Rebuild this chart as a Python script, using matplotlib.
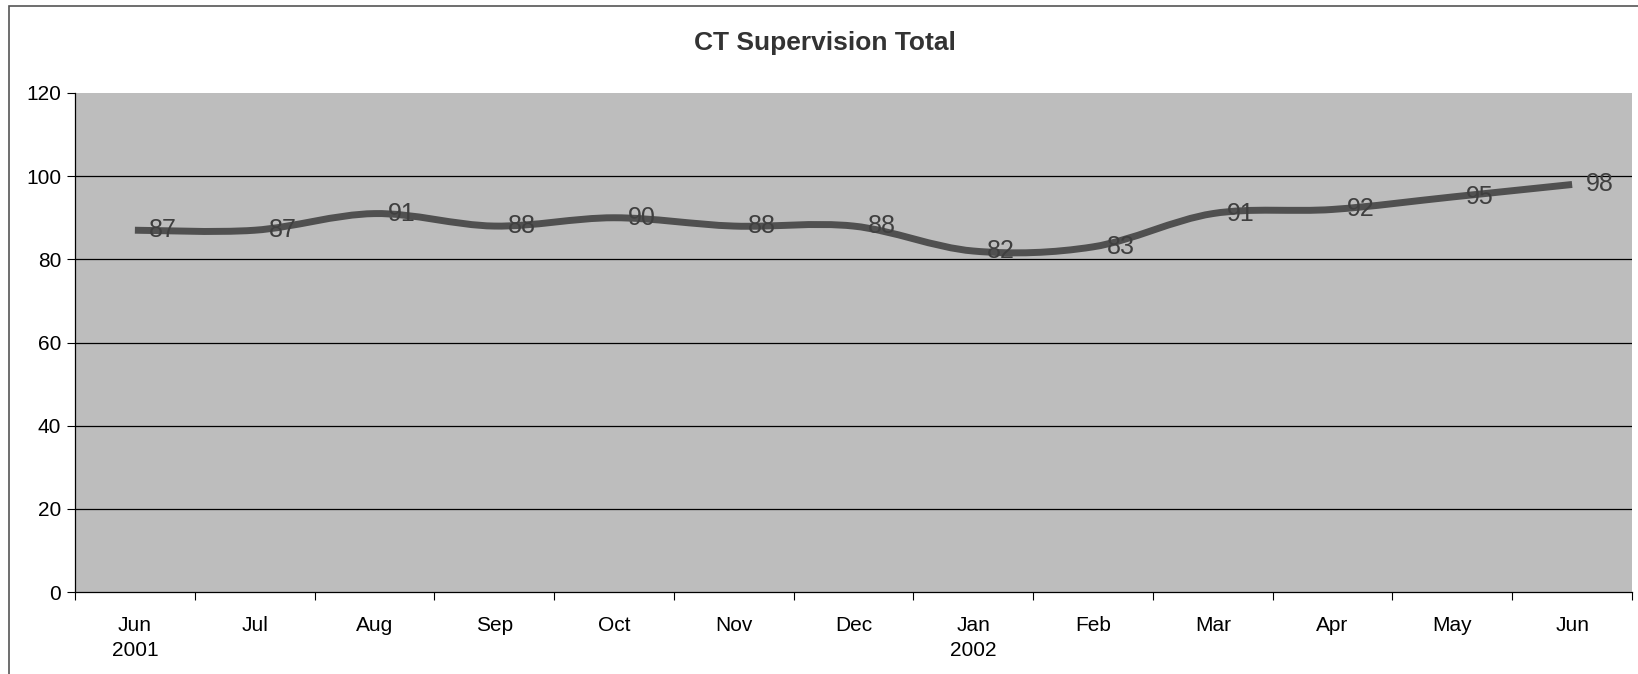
import numpy as np
import matplotlib.pyplot as plt
from matplotlib.path import Path
from matplotlib.patches import PathPatch, Rectangle

months = ['Jun', 'Jul', 'Aug', 'Sep', 'Oct', 'Nov', 'Dec',
          'Jan', 'Feb', 'Mar', 'Apr', 'May', 'Jun']
years = ['2001', '', '', '', '', '', '', '2002', '', '', '', '', '']
totals = [87, 87, 91, 88, 90, 88, 88, 82, 83, 91, 92, 95, 98]
yticks = [0, 20, 40, 60, 80, 100, 120]

plt.rcParams['font.family'] = ['Liberation Sans', 'DejaVu Sans']

fig = plt.figure(figsize=(16.38, 6.74), dpi=100)
ax = fig.add_axes([75 / 1638, 1 - 592 / 674, (1632 - 75) / 1638, (592 - 93) / 674])
ax.set_facecolor('#bdbdbd')

x = np.arange(len(totals))
y = np.array(totals, dtype=float)

# smoothed line like excel: catmull-rom -> bezier control points
verts = [(x[0], y[0])]
codes = [Path.MOVETO]
n = len(x)
for i in range(n - 1):
    p0 = np.array([x[max(i - 1, 0)], y[max(i - 1, 0)]])
    p1 = np.array([x[i], y[i]])
    p2 = np.array([x[i + 1], y[i + 1]])
    p3 = np.array([x[min(i + 2, n - 1)], y[min(i + 2, n - 1)]])
    c1 = p1 + (p2 - p0) / 6
    c2 = p2 - (p3 - p1) / 6
    verts += [tuple(c1), tuple(c2), tuple(p2)]
    codes += [Path.CURVE4] * 3
ax.add_patch(PathPatch(Path(verts, codes), facecolor='none',
                       edgecolor='#505050', lw=5, capstyle='butt', zorder=3))

for xi, yi in zip(x, y):
    ax.annotate(f'{int(yi)}', (xi, yi), xytext=(10, 0), textcoords='offset points',
                ha='left', va='center', fontsize=18, color='#3f3f3f', zorder=4)

ax.set_xlim(-0.5, len(totals) - 0.5)
ax.set_ylim(0, 120)
ax.set_yticks(yticks)
# gridlines, none at the top edge
ax.hlines(yticks[1:-1], -0.5, len(totals) - 0.5, color='black', lw=0.9, zorder=1)
ax.tick_params(axis='y', labelsize=15, length=6, width=0.8, pad=4)

ax.set_xticks(x)
ax.set_xticklabels([m + '\n' + yr for m, yr in zip(months, years)],
                   fontsize=15, linespacing=1.45, va='top')
ax.set_xticks(np.arange(-0.5, len(totals)), minor=True)
ax.tick_params(axis='x', which='major', length=0, pad=17)
ax.tick_params(axis='x', which='minor', length=6, width=0.8)

for s in ['top', 'right']:
    ax.spines[s].set_visible(False)
for s in ['left', 'bottom']:
    ax.spines[s].set_linewidth(0.9)

fig.text(825 / 1638, 1 - 43 / 674, 'CT Supervision Total', ha='center', va='center',
         fontsize=19, fontweight='bold', color='#333333')

# chart border
fig.patches.append(Rectangle((9 / 1638, -0.01), 1.02, 1 - 6 / 674 + 0.01,
                             transform=fig.transFigure, fill=False,
                             edgecolor='#555555', lw=1.2))

fig.savefig('out.png', dpi=100)
